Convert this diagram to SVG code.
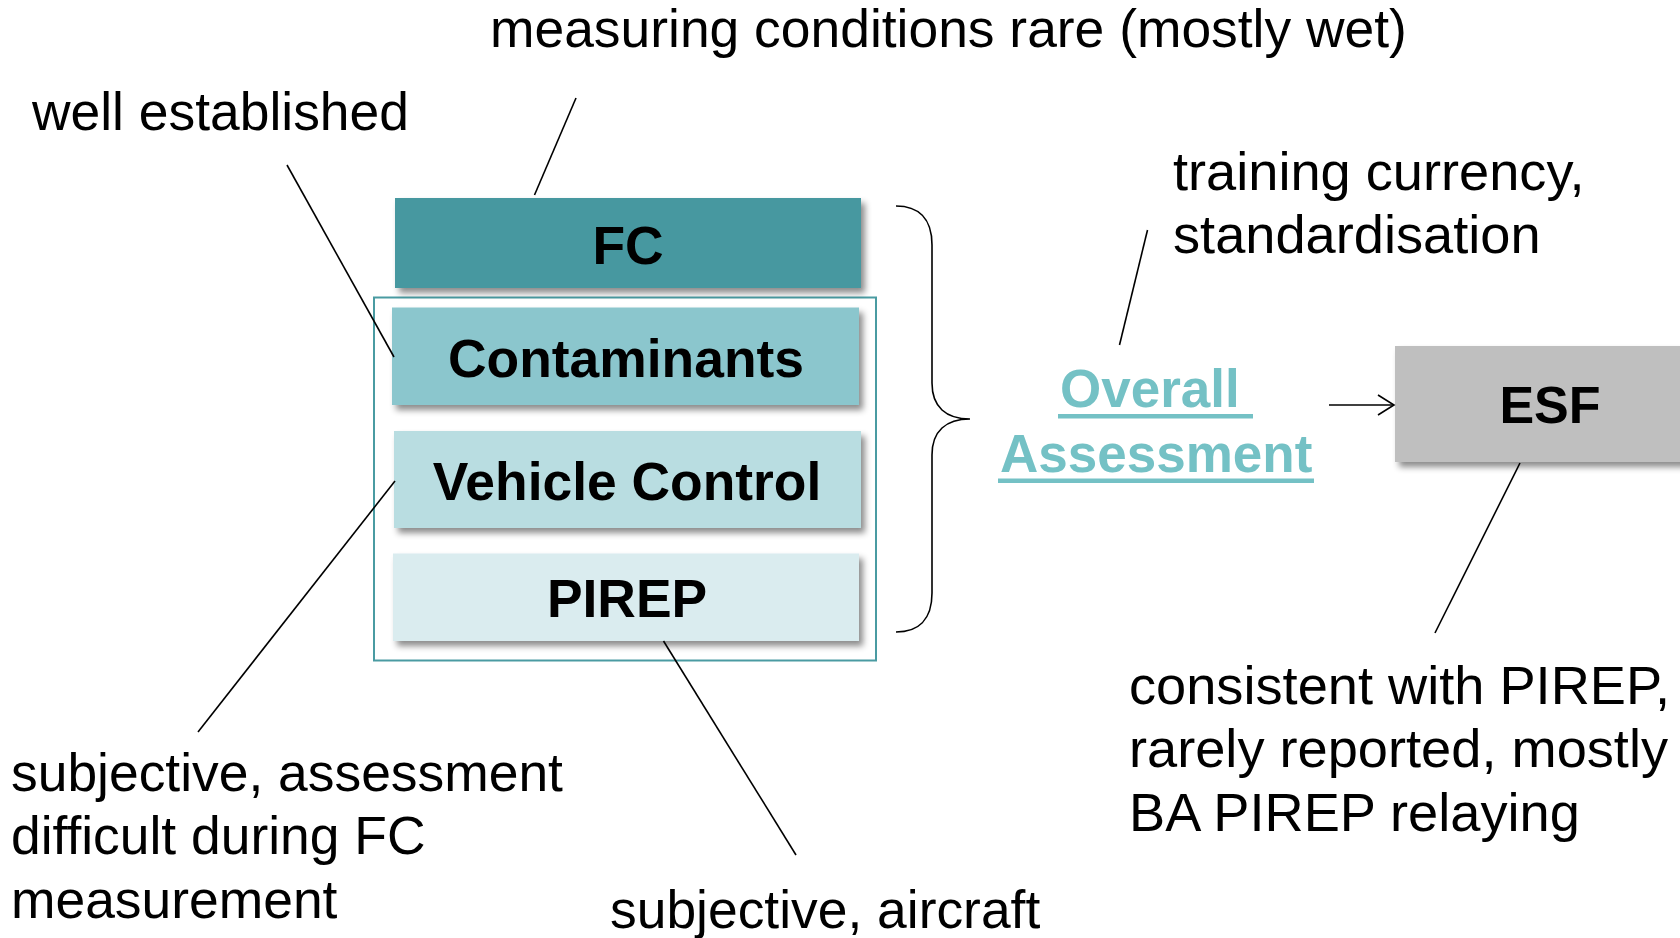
<svg xmlns="http://www.w3.org/2000/svg" width="1680" height="938" viewBox="0 0 1680 938">
<style>
.lbl{font-family:"Liberation Sans",Arial,sans-serif;font-size:53.4px;fill:#000}
.lbr{font-size:54.2px}
.box{font-family:"Liberation Sans",Arial,sans-serif;font-size:53.4px;font-weight:bold;fill:#000;text-anchor:middle}
.oa{font-family:"Liberation Sans",Arial,sans-serif;font-size:53px;font-weight:bold;fill:#74C1C5}
.ln{stroke:#000;stroke-width:1.6;fill:none}
</style>
<defs>
<filter id="sh" x="-5%" y="-10%" width="115%" height="130%">
<feDropShadow dx="4" dy="5" stdDeviation="3" flood-color="#000" flood-opacity="0.45"/>
</filter>
<marker id="arr" markerWidth="20" markerHeight="24" refX="18" refY="12" orient="auto" markerUnits="userSpaceOnUse">
<path d="M2 2 L18 12 L2 22" fill="none" stroke="#000" stroke-width="1.6"/>
</marker>
</defs>
<rect width="1680" height="938" fill="#fff"/>
<g id="group-frame">
<rect x="374" y="297.5" width="502" height="363" fill="#fff" stroke="#4A9BA2" stroke-width="2"/>
</g>
<g id="node-fc">
<rect x="395" y="198" width="466" height="90" fill="#4698A0" filter="url(#sh)"/>
<text class="box" x="628" y="264">FC</text>
</g>
<g id="node-contaminants">
<rect x="392" y="307.5" width="467" height="97.5" fill="#8BC6CD" filter="url(#sh)"/>
<text class="box" x="626" y="377">Contaminants</text>
</g>
<g id="node-vehicle-control">
<rect x="394" y="431" width="467" height="97" fill="#B9DDE1" filter="url(#sh)"/>
<text class="box" x="627" y="500">Vehicle Control</text>
</g>
<g id="node-pirep">
<rect x="393" y="553.5" width="466" height="87.5" fill="#DAECEF" filter="url(#sh)"/>
<text class="box" x="627" y="617">PIREP</text>
</g>
<g id="node-esf">
<rect x="1395" y="346" width="295" height="116" fill="#BFBFBF" filter="url(#sh)"/>
<text class="box" x="1550" y="423" style="font-size:52px">ESF</text>
</g>
<g id="node-overall">
<text class="oa" x="1060" y="407">Overall</text>
<rect x="1058" y="414" width="195" height="4.5" fill="#74C1C5"/>
<text class="oa" x="1000" y="472">Assessment</text>
<rect x="998" y="478.5" width="316" height="4.5" fill="#74C1C5"/>
</g>
<g id="labels">
<text class="lbl" x="490" y="47">measuring conditions rare (mostly wet)</text>
<text class="lbl" x="32" y="130">well established</text>
<text class="lbl lbr" x="1173" y="190">training currency,</text>
<text class="lbl lbr" x="1173" y="253">standardisation</text>
<text class="lbl" x="11" y="791">subjective, assessment</text>
<text class="lbl" x="11" y="854">difficult during FC</text>
<text class="lbl" x="11" y="918">measurement</text>
<text class="lbl" x="610" y="928">subjective, aircraft</text>
<text class="lbl lbr" x="1129" y="704">consistent with PIREP,</text>
<text class="lbl lbr" x="1129" y="767">rarely reported, mostly</text>
<text class="lbl lbr" x="1129" y="831">BA PIREP relaying</text>
</g>
<g id="connectors">
<path class="ln" d="M896 206 C918 206 932 218 932 245 L932 383 C932 407 946 419 970 419 C946 419 932 431 932 455 L932 593 C932 620 918 632 896 632"/>
<line class="ln" x1="1329" y1="405" x2="1394" y2="405" marker-end="url(#arr)"/>
<line class="ln" x1="576" y1="98" x2="534.5" y2="195"/>
<line class="ln" x1="287" y1="165" x2="394" y2="357"/>
<line class="ln" x1="395" y1="481" x2="198" y2="732"/>
<line class="ln" x1="663.5" y1="641" x2="796" y2="855"/>
<line class="ln" x1="1147.5" y1="230" x2="1119.5" y2="345"/>
<line class="ln" x1="1520" y1="463" x2="1435" y2="633"/>
</g>
</svg>
